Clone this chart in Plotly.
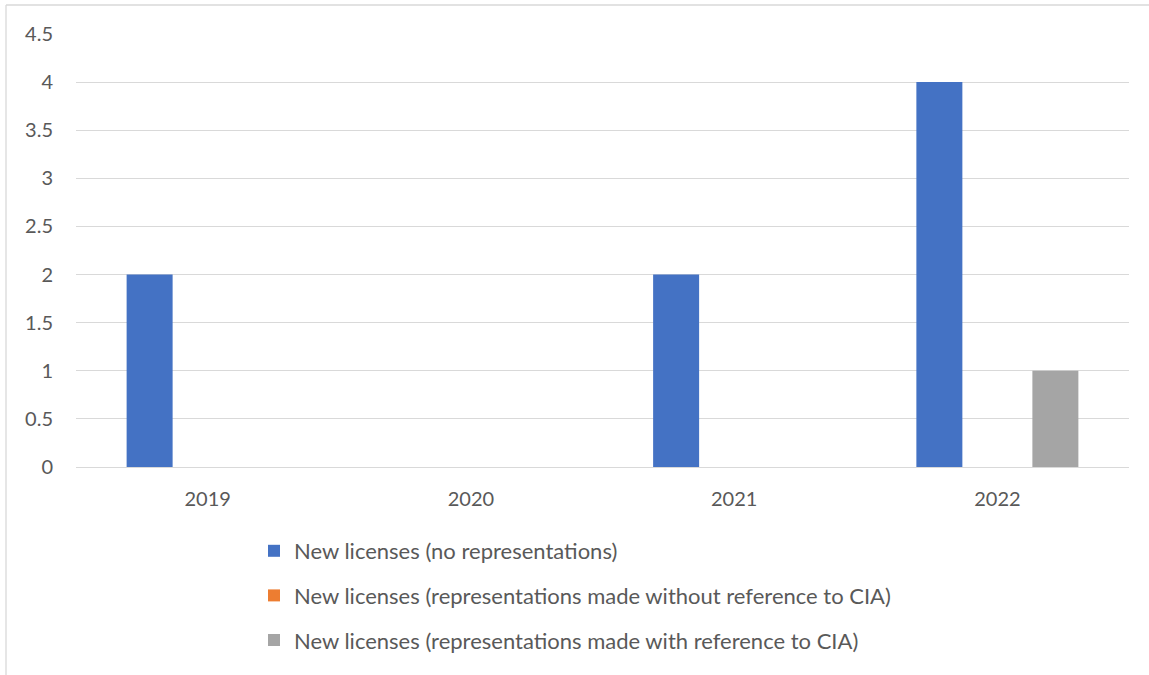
import plotly.graph_objects as go

years = ["2019", "2020", "2021", "2022"]
series_names = [
    "New licenses (no representations)",
    "New licenses (representations made without reference to CIA)",
    "New licenses (representations made with reference to CIA)",
]
no_representations = [2, 0, 2, 4]
without_cia_reference = [0, 0, 0, 0]
with_cia_reference = [0, 0, 0, 1]
y_ticks = [0, 0.5, 1, 1.5, 2, 2.5, 3, 3.5, 4, 4.5]
y_tick_text = ["0", "0.5", "1", "1.5", "2", "2.5", "3", "3.5", "4", "4.5"]

colors = ["#4472C4", "#ED7D31", "#A5A5A5"]
values = [no_representations, without_cia_reference, with_cia_reference]

W, H = 1149, 675
L, R, T, B = 76, 20, 34, 208
plot_w = W - L - R
plot_h = H - T - B

fig = go.Figure()
for i, (name, vals, col) in enumerate(zip(series_names, values, colors)):
    fig.add_trace(go.Bar(
        x=years, y=vals, name=name, marker_color=col,
        marker_line_width=0, legendgroup=f"g{i}",
    ))

def px_x(p):
    return (p - L) / plot_w

def px_y(p):
    return (H - B - p) / plot_h

font = "Lato, 'Open Sans', sans-serif"

fig.update_layout(
    width=W, height=H,
    margin=dict(l=L, r=R, t=T, b=B, pad=0, autoexpand=False),
    paper_bgcolor="white", plot_bgcolor="white",
    barmode="group", bargap=0.339, bargroupgap=0.207,
    font=dict(family=font, size=20, color="#595959"),
    showlegend=True,
    legend=dict(
        x=px_x(254), y=px_y(530), xanchor="left", yanchor="top",
        orientation="v", tracegroupgap=13,
        font=dict(family=font, size=22, color="#595959"),
        itemwidth=30, bgcolor="rgba(0,0,0,0)",
    ),
    xaxis=dict(
        showgrid=False, showline=False, zeroline=False, ticks="",
        tickfont=dict(size=20, color="#595959"), ticklabelstandoff=18,
    ),
    yaxis=dict(
        range=[0, 4.5], tickvals=y_ticks, ticktext=y_tick_text,
        showgrid=True, gridcolor="#D9D9D9", gridwidth=1.3,
        zeroline=True, zerolinecolor="#D9D9D9", zerolinewidth=1.3,
        showline=False, ticks="", ticklabelstandoff=22,
        tickfont=dict(size=20, color="#595959"),
    ),
    shapes=[
        dict(type="line", xref="paper", yref="paper",
             x0=px_x(6), x1=px_x(1160), y0=px_y(5), y1=px_y(5),
             line=dict(color="#D9D9D9", width=1.3)),
        dict(type="line", xref="paper", yref="paper",
             x0=px_x(6), x1=px_x(6), y0=px_y(5), y1=px_y(690),
             line=dict(color="#D9D9D9", width=1.3)),
    ],
)

fig.write_html("out.html")
